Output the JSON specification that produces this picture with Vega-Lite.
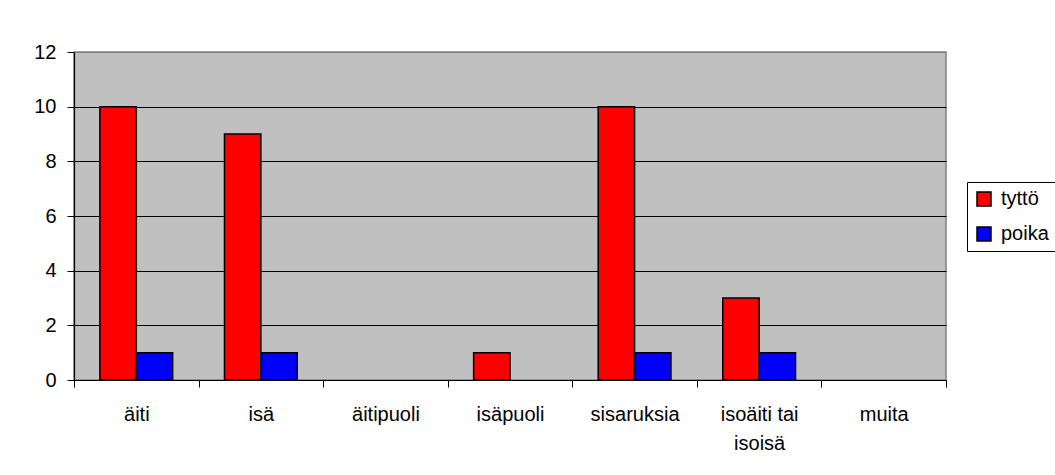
{
  "$schema": "https://vega.github.io/schema/vega-lite/v6.json",
  "autosize": {"type": "none"},
  "padding": {"left": 74, "top": 52, "right": 109, "bottom": 95},
  "width": 872,
  "height": 328,
  "background": "white",
  "data": {
    "values": [
      {"kohde": "äiti", "sukupuoli": "tyttö", "arvo": 10},
      {"kohde": "äiti", "sukupuoli": "poika", "arvo": 1},
      {"kohde": "isä", "sukupuoli": "tyttö", "arvo": 9},
      {"kohde": "isä", "sukupuoli": "poika", "arvo": 1},
      {"kohde": "äitipuoli", "sukupuoli": "tyttö", "arvo": 0},
      {"kohde": "äitipuoli", "sukupuoli": "poika", "arvo": 0},
      {"kohde": "isäpuoli", "sukupuoli": "tyttö", "arvo": 1},
      {"kohde": "isäpuoli", "sukupuoli": "poika", "arvo": 0},
      {"kohde": "sisaruksia", "sukupuoli": "tyttö", "arvo": 10},
      {"kohde": "sisaruksia", "sukupuoli": "poika", "arvo": 1},
      {"kohde": "isoäiti tai isoisä", "sukupuoli": "tyttö", "arvo": 3},
      {"kohde": "isoäiti tai isoisä", "sukupuoli": "poika", "arvo": 1},
      {"kohde": "muita", "sukupuoli": "tyttö", "arvo": 0},
      {"kohde": "muita", "sukupuoli": "poika", "arvo": 0}
    ]
  },
  "transform": [{"filter": "datum.arvo > 0"}],
  "mark": {"type": "bar", "stroke": "black", "strokeWidth": 1.5},
  "encoding": {
    "x": {
      "field": "kohde",
      "type": "nominal",
      "scale": {
        "domain": ["äiti", "isä", "äitipuoli", "isäpuoli", "sisaruksia", "isoäiti tai isoisä", "muita"],
        "paddingInner": 0,
        "paddingOuter": 0
      },
      "axis": {
        "title": null,
        "labelAngle": 0,
        "tickBand": "extent",
        "labelExpr": "datum.label == 'isoäiti tai isoisä' ? ['isoäiti tai', 'isoisä'] : datum.label",
        "labelLineHeight": 29,
        "labelPadding": 17
      }
    },
    "xOffset": {
      "field": "sukupuoli",
      "type": "nominal",
      "scale": {"domain": ["tyttö", "poika"], "paddingInner": 0, "paddingOuter": 0.712}
    },
    "y": {
      "field": "arvo",
      "type": "quantitative",
      "scale": {"domain": [0, 12], "nice": false},
      "axis": {
        "title": null,
        "values": [0, 2, 4, 6, 8, 10, 12],
        "grid": true,
        "gridColor": {"condition": {"test": "datum.value === 12", "value": "#808080"}, "value": "black"},
        "labelPadding": 11
      }
    },
    "fill": {
      "field": "sukupuoli",
      "type": "nominal",
      "scale": {"domain": ["tyttö", "poika"], "range": ["#FF0000", "#0000FF"]},
      "legend": {
        "title": null,
        "orient": "none",
        "legendX": 893,
        "legendY": 130,
        "direction": "vertical"
      }
    }
  },
  "config": {
    "font": "Liberation Sans",
    "view": {"fill": "#C0C0C0", "stroke": "#808080", "strokeWidth": 1.5},
    "axis": {
      "labelFont": "Liberation Sans",
      "labelFontSize": 20,
      "labelColor": "black",
      "domainColor": "black",
      "domainWidth": 1.2,
      "tickColor": "black",
      "tickSize": 7,
      "tickWidth": 1,
      "gridWidth": 1,
      "gridOpacity": 1
    },
    "legend": {
      "labelFont": "Liberation Sans",
      "labelFontSize": 20,
      "labelColor": "black",
      "symbolType": "square",
      "symbolSize": 196,
      "symbolStrokeColor": "black",
      "symbolStrokeWidth": 1.5,
      "symbolOpacity": 1,
      "strokeColor": "black",
      "strokeWidth": 1,
      "fillColor": "white",
      "padding": 7,
      "rowPadding": 15,
      "labelOffset": 7
    }
  }
}
